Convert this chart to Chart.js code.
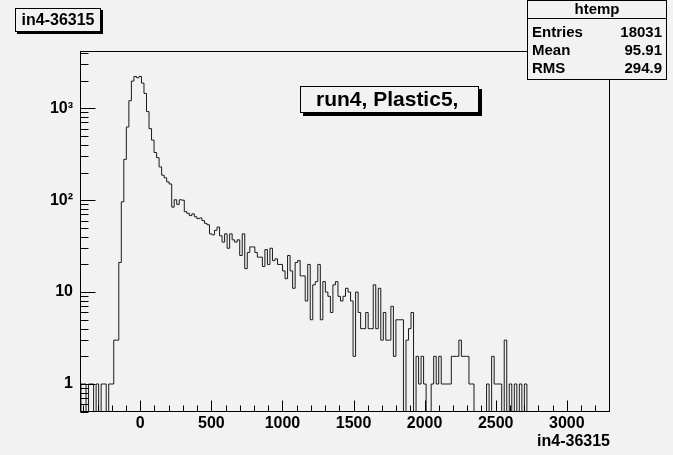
<!DOCTYPE html>
<html><head><meta charset="utf-8">
<script src="https://cdn.jsdelivr.net/npm/chart.js@4/dist/chart.umd.min.js"></script>
<style>html,body{margin:0;padding:0;background:#fff;overflow:hidden}#wrap{width:673px;height:455px;position:relative}</style>
</head><body><div id="wrap"><canvas id="c" width="673" height="455"></canvas></div>
<script>
// ---- data ----
const xAxisMin = -417, xAxisMax = 3304;
const yAxisMin = 0.496, yAxisMax = 4093;
const binLow = -417, binWidth = 17.72;
const binCounts = [
  1,1,0,1,1,0,1,0,1,1, 0,1,1,3,3,21,96,278,625,1208,
  1975,2218,2150,2218,1880,1450,920,600,450,330, 290,230,187,175,158,150,84,101,90,101,
  100,75,72,68,71,66,63,64,60,56, 54,43,42,47,51,41,35,43,30,43,
  37,35,37,25,43,18,27,31,31,27, 24,24,19,29,20,30,22,23,20,20,
  17,14,25,17,11,21,22,15,15,8, 20,5,12,13,20,5,13,10,9,6,
  12,13,9,8,9,11,10,8,2,10, 6,4,4,6,4,4,12,4,11,3,
  6,3,3,7,2,5,5,5,0,3, 4,6,0,2,1,2,1,0,0,1,
  2,1,2,1,1,1,1,2,2,2, 3,2,2,2,1,1,0,0,0,0,
  0,1,0,2,1,1,1,0,3,0, 1,0,1,0,1,0,1,0,0,0,
  0,0,0,0,0,0,0,0,0,0, 0,0,0,0,0,0,0,0,0,0,
  0,0,0,0,0,0,0,0,0,0
];
const xTickValues = [0, 500, 1000, 1500, 2000, 2500, 3000];
const yTickValues = [1, 10, 100, 1000];
const yTickLabels = ['1', '10', '10\u00B2', '10\u00B3'];
const titleText = 'in4-36315';
const xAxisTitle = 'in4-36315';
const paveText = 'run4, Plastic5,';
const statsName = 'htemp';
const statsLabels = ['Entries', 'Mean', 'RMS'];
const statsValues = ['18031', '95.91', '294.9'];

// ---- build the step outline from the bins ----
const points = [{x: binLow, y: yAxisMin}];
binCounts.forEach((c, i) => points.push({x: binLow + i * binWidth, y: c > 0 ? c : yAxisMin}));
points.push({x: binLow + binCounts.length * binWidth, y: yAxisMin});

const FONT = '"Liberation Sans", Arial, Helvetica, sans-serif';
const BG = '#f2f2f2';

const rootDeco = {
  id: 'rootDeco',
  beforeDraw(chart) {
    const ctx = chart.ctx;
    ctx.save();
    ctx.fillStyle = BG;
    ctx.fillRect(0, 0, chart.width, chart.height);
    ctx.restore();
  },
  afterDatasetsDraw(chart) {
    const ctx = chart.ctx;
    const a = chart.chartArea;
    const xs = chart.scales.x, ys = chart.scales.y;
    ctx.save();
    ctx.strokeStyle = '#000';
    ctx.lineWidth = 1;
    // frame
    ctx.strokeRect(Math.round(a.left) - 0.5, Math.round(a.top) - 0.5, Math.round(a.right - a.left), Math.round(a.bottom - a.top));
    const b = Math.round(a.bottom) - 0.5, l = Math.round(a.left) - 0.5;
    ctx.beginPath();
    // x ticks (inward)
    for (let v = -400; v <= 3300; v += 100) {
      const px = Math.round(xs.getPixelForValue(v)) + 0.5;
      if (px < a.left || px > a.right) continue;
      const len = (v % 500 === 0) ? 11 : 6;
      ctx.moveTo(px, b); ctx.lineTo(px, b - len);
    }
    // y ticks (inward, log)
    for (let d = -1; d <= 3; d++) {
      for (let m = 1; m <= 9; m++) {
        const v = m * Math.pow(10, d);
        if (v < yAxisMin || v > yAxisMax) continue;
        const py = Math.round(ys.getPixelForValue(v)) + 0.5;
        const len = m === 1 ? 15 : 8;
        ctx.moveTo(l, py); ctx.lineTo(l + len, py);
      }
    }
    ctx.stroke();

    function shadowBox(x, y, w, h, sh) {
      ctx.fillStyle = '#000';
      ctx.fillRect(x + w, y + sh, sh, h);
      ctx.fillRect(x + sh, y + h, w, sh);
      ctx.fillStyle = BG;
      ctx.fillRect(x, y, w, h);
      ctx.strokeStyle = '#000';
      ctx.lineWidth = 1;
      ctx.strokeRect(x + 0.5, y + 0.5, w - 1, h - 1);
    }
    // title box
    shadowBox(15, 8, 86, 24, 2);
    ctx.fillStyle = '#000';
    ctx.font = 'bold 16px ' + FONT;
    ctx.textAlign = 'center'; ctx.textBaseline = 'middle';
    ctx.fillText(titleText, 58, 20.5);
    // pave text box
    shadowBox(300, 86, 179, 27, 3);
    ctx.fillStyle = '#000';
    ctx.font = 'bold 21px ' + FONT;
    ctx.textAlign = 'left';
    ctx.fillText(paveText, 316, 100.5);
    // stats box
    ctx.fillStyle = BG;
    ctx.fillRect(527, 0, 140, 80);
    ctx.strokeStyle = '#000';
    ctx.strokeRect(527.5, 0.5, 139, 79);
    ctx.beginPath(); ctx.moveTo(527.5, 18.5); ctx.lineTo(666.5, 18.5); ctx.stroke();
    ctx.fillStyle = '#000';
    ctx.font = 'bold 15px ' + FONT;
    ctx.textAlign = 'center';
    ctx.fillText(statsName, 597, 10);
    statsLabels.forEach((lab, i) => {
      const yy = 33 + i * 18;
      ctx.textAlign = 'left'; ctx.fillText(lab, 532, yy);
      ctx.textAlign = 'right'; ctx.fillText(statsValues[i], 662, yy);
    });
    ctx.restore();
  }
};

new Chart(document.getElementById('c'), {
  type: 'line',
  data: {
    datasets: [{
      data: points,
      stepped: 'before',
      borderColor: '#1a1a1a',
      borderWidth: 1,
      pointRadius: 0,
      fill: false,
      tension: 0
    }]
  },
  options: {
    responsive: false,
    animation: false,
    devicePixelRatio: 1,
    layout: {padding: {left: 0, top: 52, right: 63, bottom: 0}},
    plugins: {legend: {display: false}, tooltip: {enabled: false}, title: {display: false}},
    scales: {
      x: {
        type: 'linear',
        min: xAxisMin, max: xAxisMax,
        afterBuildTicks: s => { s.ticks = xTickValues.map(v => ({value: v})); },
        afterFit: s => { s.height = 43; },
        grid: {display: false, drawTicks: false},
        border: {display: false},
        ticks: {color: '#000', padding: 2, maxRotation: 0, autoSkip: false, font: {family: FONT, size: 16, weight: 'bold'}, callback: v => String(v)},
        title: {display: true, text: xAxisTitle, align: 'end', color: '#000', padding: {top: 0, bottom: 4}, font: {family: FONT, size: 16, weight: 'bold'}}
      },
      y: {
        type: 'logarithmic',
        min: yAxisMin, max: yAxisMax,
        afterBuildTicks: s => { s.ticks = yTickValues.map(v => ({value: v})); },
        afterFit: s => { s.width = 81; },
        grid: {display: false, drawTicks: false},
        border: {display: false},
        ticks: {color: '#000', padding: 8, autoSkip: false, font: {family: FONT, size: 16, weight: 'bold'},
          callback: (v) => { const i = yTickValues.indexOf(v); return i >= 0 ? yTickLabels[i] : ''; }}
      }
    }
  },
  plugins: [rootDeco]
});
</script></body></html>
